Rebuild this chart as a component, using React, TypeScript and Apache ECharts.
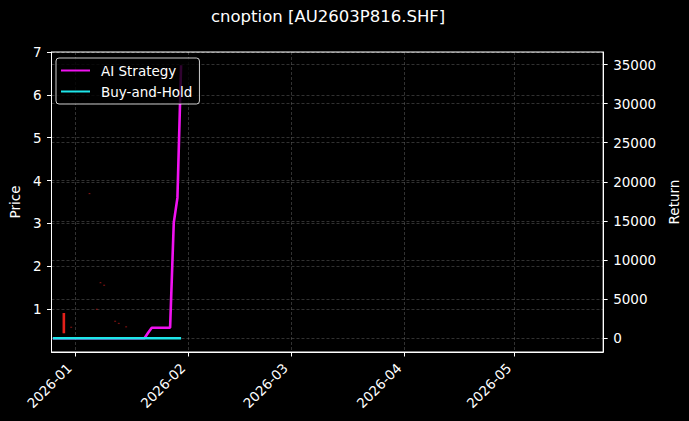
import React, { useEffect, useRef } from 'react';
import * as echarts from 'echarts';

const tradeDates = [
  '2025-12-26', '2025-12-29', '2025-12-30', '2025-12-31',
  '2026-01-05', '2026-01-06', '2026-01-07', '2026-01-08', '2026-01-09',
  '2026-01-12', '2026-01-13', '2026-01-14', '2026-01-15', '2026-01-16',
  '2026-01-19', '2026-01-20', '2026-01-21', '2026-01-22', '2026-01-23',
  '2026-01-26', '2026-01-27', '2026-01-28', '2026-01-29', '2026-01-30',
];
const aiStrategyReturn = [
  0, 0, 0, 0,
  0, 0, 0, 0, 0,
  0, 0, 0, 0, 0,
  0, 0, 700, 1350, 1350,
  1350, 1350, 14750, 17950, 34900,
];
const buyHoldReturn = [
  0, 0, 0, 0,
  0, 0, 0, 0, 0,
  0, 0, 0, 0, 0,
  0, 0, 0, 0, 0,
  0, 0, 0, 0, 0,
];

const candleDates = ['2025-12-29', '2025-12-31', '2026-01-05', '2026-01-07', '2026-01-08', '2026-01-09', '2026-01-12', '2026-01-13', '2026-01-15'];
const candleOpen = [0.91, 0.59, 3.71, 1.01, 1.63, 1.57, 0.73, 0.68, 0.6];
const candleClose = [0.44, 0.57, 3.69, 0.99, 1.61, 1.55, 0.71, 0.66, 0.58];
const candleLow = [0.44, 0.57, 3.69, 0.99, 1.61, 1.55, 0.71, 0.66, 0.58];
const candleHigh = [0.91, 0.59, 3.71, 1.01, 1.63, 1.57, 0.73, 0.68, 0.6];

const chartTitle = 'cnoption [AU2603P816.SHF]';
const FONT = 'DejaVu Sans';
const FS = 13.5;

export default function App() {
  const ref = useRef<HTMLDivElement>(null);
  useEffect(() => {
    document.body.style.margin = '0';
    document.body.style.background = '#000';
    const chart = echarts.init(ref.current!, null, { renderer: 'svg' });
    const white = '#ffffff';
    const gridLine = { show: true, lineStyle: { color: 'rgba(255,255,255,0.32)', type: [3, 2], width: 0.6 } };
    const candleData = candleDates.map((d, i) => [d, candleOpen[i], candleClose[i], candleLow[i], candleHigh[i]]);
    chart.setOption({
      animation: false,
      backgroundColor: '#000',
      textStyle: { fontFamily: FONT },
      title: {
        text: chartTitle,
        left: 211,
        top: 8,
        padding: 0,
        textStyle: { color: white, fontSize: 16.5, fontWeight: 'normal', fontFamily: FONT },
      },
      legend: {
        data: ['AI Strategy', 'Buy-and-Hold'],
        orient: 'vertical',
        left: 56,
        top: 58,
        padding: [5, 7, 5, 5],
        itemGap: 6,
        itemWidth: 29,
        itemHeight: 2,
        icon: 'rect',
        backgroundColor: 'rgba(0,0,0,0.8)',
        borderColor: 'rgba(255,255,255,0.8)',
        borderWidth: 1,
        borderRadius: 3,
        textStyle: { color: white, fontSize: FS, fontFamily: FONT, lineHeight: 15, padding: [0, 0, 0, 6] },
      },
      grid: {
        left: 48,
        top: 52,
        right: 81.5,
        bottom: 69,
        show: true,
        borderColor: white,
        borderWidth: 1,
        backgroundColor: 'transparent',
      },
      xAxis: {
        type: 'time',
        min: new Date(2025, 11, 25, 15).getTime(),
        max: new Date(2026, 4, 25, 5).getTime(),
        minInterval: 28 * 864e5,
        maxInterval: 31 * 864e5,
        axisLine: { show: true, lineStyle: { color: white } },
        axisTick: { show: true, length: 4.5, lineStyle: { color: white } },
        axisLabel: {
          rotate: 45,
          color: white,
          fontSize: FS,
          fontFamily: FONT,
          margin: 8,
          padding: [0, 8, 0, 0],
          formatter: '{yyyy}-{MM}',
          showMinLabel: false,
          showMaxLabel: false,
          hideOverlap: false,
        },
        splitLine: gridLine,
      },
      yAxis: [
        {
          type: 'value',
          position: 'left',
          min: 0,
          max: 7,
          interval: 1,
          name: 'Price',
          nameLocation: 'middle',
          nameGap: 21,
          nameTextStyle: { color: white, fontSize: FS, fontFamily: FONT },
          axisLine: { show: true, lineStyle: { color: white } },
          axisTick: { show: true, length: 4.5, lineStyle: { color: white } },
          axisLabel: { color: white, fontSize: FS, fontFamily: FONT, margin: 10, showMinLabel: false },
          splitLine: gridLine,
        },
        {
          type: 'value',
          position: 'right',
          min: -1750,
          max: 36600,
          splitNumber: 8,
          name: 'Return',
          nameLocation: 'middle',
          nameGap: 54,
          nameTextStyle: { color: white, fontSize: FS, fontFamily: FONT },
          axisLine: { show: true, lineStyle: { color: white } },
          axisTick: { show: true, length: 4.5, lineStyle: { color: white } },
          axisLabel: {
            color: white,
            fontSize: FS,
            fontFamily: FONT,
            margin: 10,
            showMinLabel: false,
            showMaxLabel: false,
            formatter: (v: number) => String(Math.round(v)),
          },
          splitLine: gridLine,
        },
      ],
      series: [
        {
          name: 'Candles',
          type: 'custom',
          yAxisIndex: 0,
          data: candleData,
          encode: { x: 0, y: [1, 2, 3, 4] },
          z: 1,
          renderItem: (_params: any, api: any) => {
            const x = api.value(0);
            const o = api.value(1);
            const c = api.value(2);
            const l = api.value(3);
            const h = api.value(4);
            const pO = api.coord([x, o]);
            const pC = api.coord([x, c]);
            const pL = api.coord([x, l]);
            const pH = api.coord([x, h]);
            const big = Math.abs(h - l) > 0.1;
            const color = big ? '#e4201a' : 'rgba(170,25,25,0.55)';
            const w = big ? 2.6 : 2;
            const top = Math.min(pO[1], pC[1]);
            const hgt = Math.max(Math.abs(pO[1] - pC[1]), 1.2);
            return {
              type: 'group',
              children: [
                { type: 'line', shape: { x1: pL[0], y1: pL[1], x2: pH[0], y2: pH[1] }, style: { stroke: color, lineWidth: 1 } },
                { type: 'rect', shape: { x: pO[0] - w / 2, y: top, width: w, height: hgt }, style: { fill: color } },
              ],
            };
          },
        },
        {
          name: 'AI Strategy',
          type: 'line',
          yAxisIndex: 1,
          data: tradeDates.map((d, i) => [d, aiStrategyReturn[i]]),
          showSymbol: false,
          symbol: 'none',
          lineStyle: { color: '#f012f0', width: 2.6 },
          itemStyle: { color: '#f012f0' },
          z: 3,
        },
        {
          name: 'Buy-and-Hold',
          type: 'line',
          yAxisIndex: 1,
          data: tradeDates.map((d, i) => [d, buyHoldReturn[i]]),
          showSymbol: false,
          symbol: 'none',
          lineStyle: { color: '#1ee6ea', width: 2.6 },
          itemStyle: { color: '#1ee6ea' },
          z: 4,
        },
      ],
    });
    return () => chart.dispose();
  }, []);
  return <div ref={ref} style={{ position: 'fixed', left: 0, top: 0, width: 689, height: 421, background: '#000' }} />;
}
